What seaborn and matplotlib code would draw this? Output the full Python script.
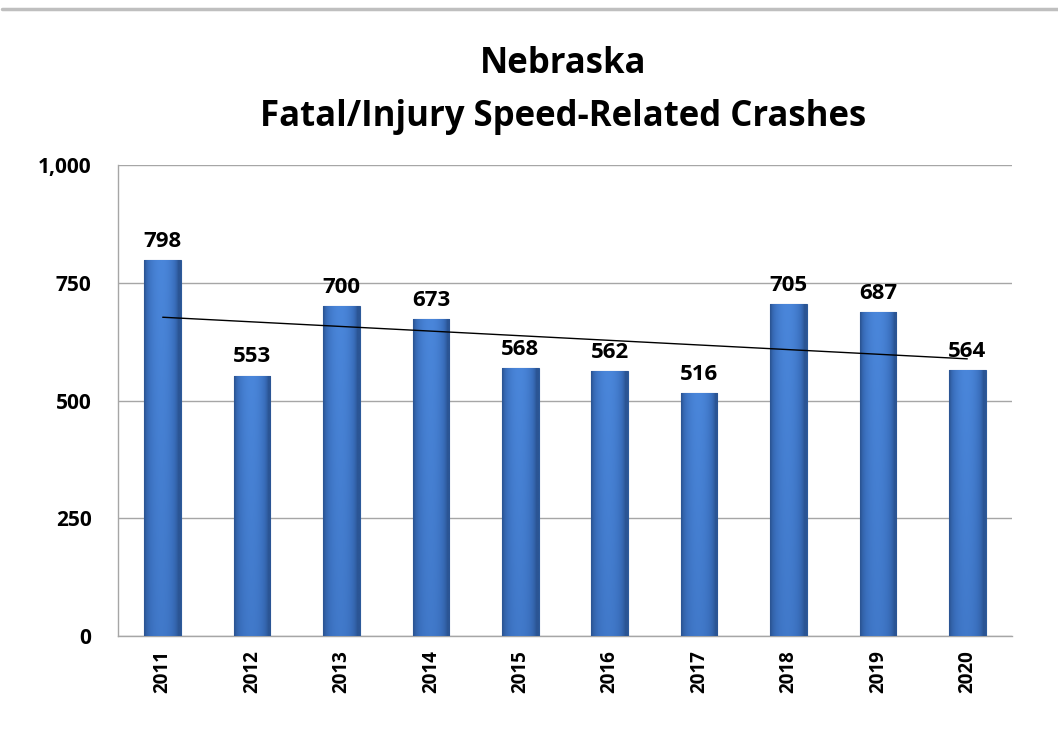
import numpy as np
import pandas as pd
import matplotlib
matplotlib.use("Agg")
import matplotlib.pyplot as plt
import seaborn as sns
from matplotlib.lines import Line2D
from matplotlib.colors import LinearSegmentedColormap

years = ["2011", "2012", "2013", "2014", "2015", "2016", "2017", "2018", "2019", "2020"]
crashes = [798, 553, 700, 673, 568, 562, 516, 705, 687, 564]
yticks = [0, 250, 500, 750, 1000]
ytick_labels = ["0", "250", "500", "750", "1,000"]
title_lines = ["Nebraska", "Fatal/Injury Speed-Related Crashes"]

sns.set_theme(style="white")
plt.rcParams['font.family'] = ['Open Sans', 'DejaVu Sans']
plt.rcParams['text.color'] = 'black'
plt.rcParams['xtick.color'] = 'black'
plt.rcParams['ytick.color'] = 'black'

df = pd.DataFrame({"year": years, "crashes": crashes})

fig = plt.figure(figsize=(10.58, 7.29), dpi=100)
ax = fig.add_axes([118/1058, 1 - 636/729, (1012-118)/1058, (636-165)/729])

sns.barplot(data=df, x="year", y="crashes", color="#3f77c9", width=0.41,
            edgecolor="#2d5a9a", linewidth=0.8, ax=ax, zorder=3)

# smooth gradient shading on bars (lighter centre and top, darker edges and bottom)
t = np.linspace(0, 1, 64)
hprof = np.sin(np.pi * np.clip(t * 1.1 - 0.02, 0, 1)) ** 0.6
vprof = np.linspace(0.72, 1.0, 64)[:, None]   # bottom -> top
grad = hprof[None, :] * vprof
cmap = LinearSegmentedColormap.from_list("b", ["#2b5594", "#3a6fbd", "#4a86da"])
for p in list(ax.patches):
    x0, y0 = p.get_x(), p.get_y()
    w, h = p.get_width(), p.get_height()
    im = ax.imshow(grad, extent=[x0, x0 + w, y0, y0 + h], aspect="auto", origin="lower",
                   cmap=cmap, vmin=0, vmax=1, zorder=3.5, interpolation="bilinear")
    im.set_clip_path(p)

# trend line
xs = np.arange(len(crashes))
m, b = np.polyfit(xs, crashes, 1)
ax.plot([xs[0], xs[-1]], [m * xs[0] + b, m * xs[-1] + b], color="black", lw=1.0, zorder=5)

# data labels
for i, v in enumerate(crashes):
    ax.annotate(f"{v}", (i, v), xytext=(0, 9.5), textcoords="offset points",
                ha="center", va="baseline", fontsize=16, fontweight="bold",
                color="black", zorder=6)

ax.set_xlim(-0.5, len(years) - 0.5)
ax.set_ylim(0, 1000)
ax.set_yticks(yticks)
ax.set_yticklabels(ytick_labels, fontsize=15, fontweight="bold")
ax.set_xticks(range(len(years)))
ax.set_xticklabels(years, rotation=90, fontsize=13.5, fontweight="bold")
ax.tick_params(axis="x", pad=10, length=0)
ax.tick_params(axis="y", pad=19, length=0)
ax.set_xlabel("")
ax.set_ylabel("")
ax.yaxis.grid(True, color="#a6a6a6", lw=1.0, zorder=0)
ax.set_axisbelow(True)
for s in ["top", "right"]:
    ax.spines[s].set_visible(False)
for s in ["left", "bottom"]:
    ax.spines[s].set_color("#a6a6a6")
    ax.spines[s].set_linewidth(1.0)

fig.text(563/1058, 1 - 73/729, title_lines[0], ha="center", va="baseline",
         fontsize=25, fontweight="bold", color="black")
fig.text(563/1058, 1 - 126/729, title_lines[1], ha="center", va="baseline",
         fontsize=25, fontweight="bold", color="black")

fig.add_artist(Line2D([2/1058, 1], [1 - 9/729, 1 - 9/729], color="#bfbfbf", lw=2.5))

fig.savefig("out.png", dpi=100)
